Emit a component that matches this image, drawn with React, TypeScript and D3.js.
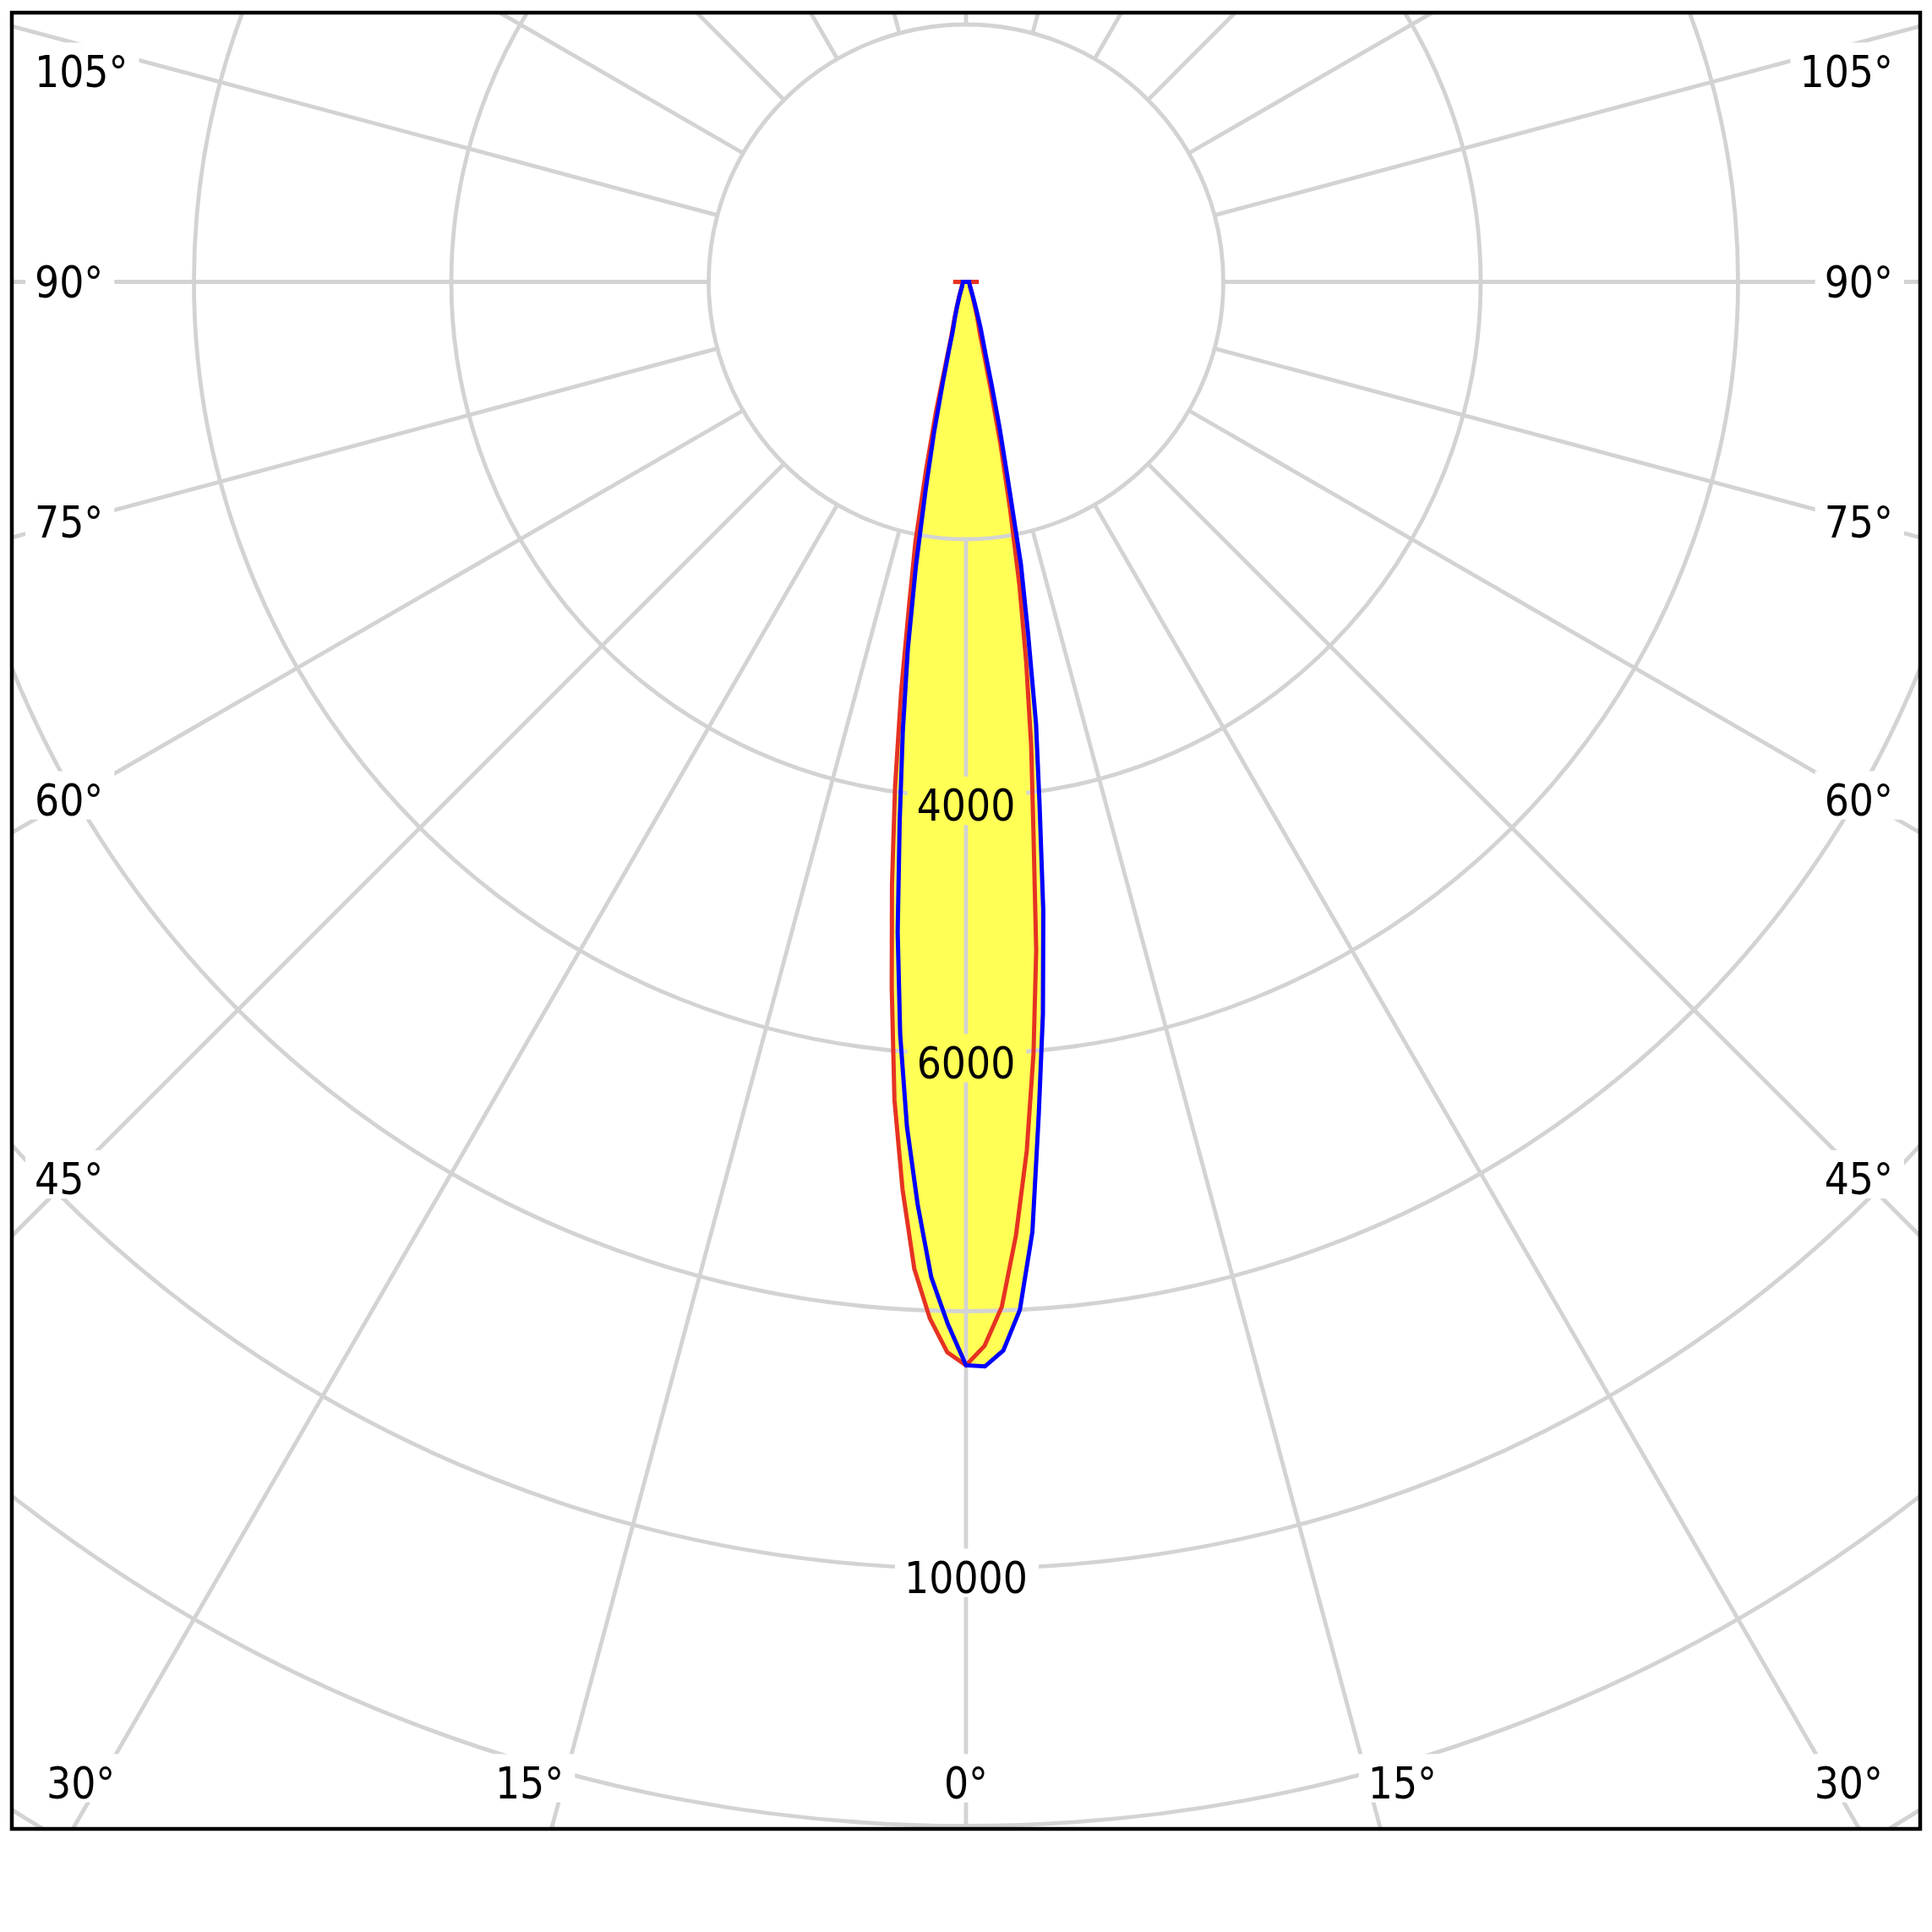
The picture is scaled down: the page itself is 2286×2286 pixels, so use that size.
import React, { useEffect, useRef } from 'react';
import * as d3 from 'd3';

// Gamma angles (degrees from nadir) and luminous intensities (cd)
const ANGLES = [0, 1, 2, 3, 4, 5, 6, 7, 8, 9, 10, 11, 12, 13, 14, 15, 17.5, 20, 22.5, 25, 30, 35, 40, 45, 50, 55, 60, 65, 70, 75, 80, 85, 90];
const RED_LEFT = [8420, 8320, 8060, 7680, 7070, 6380, 5520, 4720, 3960, 3220, 2540, 2060, 1490, 1040, 640, 450, 300, 210, 160, 125, 85, 65, 52, 45, 40, 36, 33, 30, 28, 26, 25, 28, 100];
const RED_RIGHT = [8420, 8270, 7970, 7420, 6770, 6020, 5220, 4300, 3640, 2990, 2390, 1790, 1290, 850, 580, 420, 290, 200, 150, 120, 80, 62, 50, 43, 38, 34, 31, 29, 27, 25, 24, 27, 100];
const BLUE_LEFT = [8420, 8100, 7740, 7180, 6580, 5870, 5080, 4230, 3530, 2890, 2240, 1640, 1190, 800, 550, 400, 280, 200, 150, 120, 80, 60, 48, 42, 37, 33, 30, 28, 26, 24, 22, 20, 40];
const BLUE_RIGHT = [8420, 8430, 8310, 8000, 7400, 6490, 5720, 4930, 4110, 3480, 2780, 2240, 1550, 1150, 820, 600, 380, 240, 170, 130, 85, 64, 50, 43, 38, 34, 31, 29, 27, 25, 23, 21, 40];

const RING_VALUES = [2000, 4000, 6000, 8000, 10000, 12000, 14000];
const RING_LABELS = [4000, 6000, 10000];
const SPOKE_ANGLES = [0, 15, 30, 45, 60, 75, 90, 105, 120, 135, 150, 165, 180, 195, 210, 225, 240, 255, 270, 285, 300, 315, 330, 345];
const ANGLE_LABELS = [0, 15, 30, 45, 60, 75, 90, 105];

const W = 2286;
const CX = 1143;
const CY = 333.5;
const FRAME = { x: 14, y: 15, w: 2258, h: 2149 };
const FS = 51;
const CAP = FS * 0.73;
const FONT = "'DejaVu Sans Condensed', 'DejaVu Sans', sans-serif";

export default function App() {
  const ref = useRef<SVGSVGElement>(null);

  useEffect(() => {
    const svg = d3.select(ref.current);
    svg.selectAll('*').remove();

    const r = d3.scaleLinear().domain([0, 2000]).range([0, 304.5]);
    const defs = svg.append('defs');
    defs.append('clipPath').attr('id', 'frameClip').append('rect')
      .attr('x', FRAME.x).attr('y', FRAME.y).attr('width', FRAME.w).attr('height', FRAME.h);
    const mask = defs.append('mask').attr('id', 'gridMask')
      .attr('maskUnits', 'userSpaceOnUse').attr('x', 0).attr('y', 0).attr('width', W).attr('height', W);
    mask.append('rect').attr('x', 0).attr('y', 0).attr('width', W).attr('height', W).attr('fill', 'white');

    const plot = svg.append('g').attr('clip-path', 'url(#frameClip)');

    const pts = (left: number[], right: number[]) => {
      const arr: [number, number][] = [];
      for (let i = ANGLES.length - 1; i >= 0; i--) arr.push([-ANGLES[i], left[i]]);
      for (let i = 1; i < ANGLES.length; i++) arr.push([ANGLES[i], right[i]]);
      return arr;
    };
    const line = d3.lineRadial<[number, number]>()
      .angle(d => Math.PI - (d[0] * Math.PI) / 180)
      .radius(d => r(d[1]));

    const redPts = pts(RED_LEFT, RED_RIGHT);
    const bluePts = pts(BLUE_LEFT, BLUE_RIGHT);

    const lobes = plot.append('g').attr('transform', `translate(${CX},${CY})`);
    lobes.append('path').attr('d', line(redPts) + 'Z').attr('fill', '#ffff55');
    lobes.append('path').attr('d', line(bluePts) + 'Z').attr('fill', '#ffff55');

    // grid
    const grid = plot.append('g').attr('mask', 'url(#gridMask)')
      .attr('stroke', '#d3d3d3').attr('stroke-width', 4.8).attr('fill', 'none');
    grid.selectAll('circle.ring').data(RING_VALUES).join('circle')
      .attr('cx', CX).attr('cy', CY).attr('r', d => r(d));
    grid.selectAll('line.spoke').data(SPOKE_ANGLES).join('line')
      .attr('x1', d => CX + r(2000) * Math.sin((d * Math.PI) / 180))
      .attr('y1', d => CY + r(2000) * Math.cos((d * Math.PI) / 180))
      .attr('x2', d => CX + r(18000) * Math.sin((d * Math.PI) / 180))
      .attr('y2', d => CY + r(18000) * Math.cos((d * Math.PI) / 180));

    const labels = svg.append('g').attr('font-family', FONT).attr('font-size', FS).attr('fill', '#000');

    const addLabel = (txt: string, x: number, cyL: number, anchor: string, clamp: boolean) => {
      const t = labels.append('text').attr('x', x).attr('y', cyL + CAP / 2)
        .attr('text-anchor', anchor).text(txt);
      let bb = (t.node() as SVGTextElement).getBBox();
      if (clamp) {
        const minX = FRAME.x + 41;
        const maxX = FRAME.x + FRAME.w - 44;
        let shift = 0;
        if (bb.x < minX) shift = minX - bb.x;
        if (bb.x + bb.width > maxX) shift = maxX - (bb.x + bb.width);
        if (shift !== 0) {
          t.attr('x', x + shift);
          bb = (t.node() as SVGTextElement).getBBox();
        }
      }
      mask.append('rect')
        .attr('x', bb.x - 11).attr('y', cyL - CAP / 2 - 15)
        .attr('width', bb.width + 24).attr('height', CAP + 20)
        .attr('fill', 'black');
    };

    RING_LABELS.forEach(v => {
      addLabel(String(v), CX, CY + r(v) + 10, 'middle', false);
    });

    const bottomY = FRAME.y + FRAME.h - 55;
    ANGLE_LABELS.forEach(a => {
      const sides = a === 0 ? [0] : [-1, 1];
      sides.forEach(side => {
        const rad = (a * Math.PI) / 180;
        const txt = `${a}°`;
        if (side === 0) {
          addLabel(txt, CX, bottomY, 'middle', false);
          return;
        }
        const sinA = Math.sin(rad);
        const cosA = Math.cos(rad);
        const tSide = (CX - FRAME.x) / sinA;
        const yHit = CY + tSide * cosA;
        if (yHit < FRAME.y + FRAME.h) {
          const xRef = side < 0 ? FRAME.x + 68 : FRAME.x + FRAME.w - 68;
          const t = Math.abs(xRef - CX) / sinA;
          const cyL = Math.max(CY + t * cosA, FRAME.y + 69);
          const x = side < 0 ? FRAME.x + 27 : FRAME.x + FRAME.w - 32;
          addLabel(txt, x, cyL, side < 0 ? 'start' : 'end', false);
        } else {
          const t = (bottomY - CY) / cosA;
          const x = CX + side * t * sinA;
          addLabel(txt, x, bottomY, side < 0 ? 'end' : 'start', true);
        }
      });
    });

    // curves
    const curves = svg.append('g').attr('transform', `translate(${CX},${CY})`).attr('fill', 'none');
    curves.append('path').attr('d', line(redPts) + 'Z').attr('stroke', '#e63222').attr('stroke-width', 5);
    curves.append('path').attr('d', line(bluePts) + 'Z').attr('stroke', '#0000ff').attr('stroke-width', 5);

    svg.append('rect').attr('x', FRAME.x).attr('y', FRAME.y).attr('width', FRAME.w).attr('height', FRAME.h)
      .attr('fill', 'none').attr('stroke', '#000').attr('stroke-width', 4.5);
  }, []);

  return (
    <svg ref={ref} width={W} height={W} style={{ position: 'absolute', left: 0, top: 0, background: '#fff' }} />
  );
}
